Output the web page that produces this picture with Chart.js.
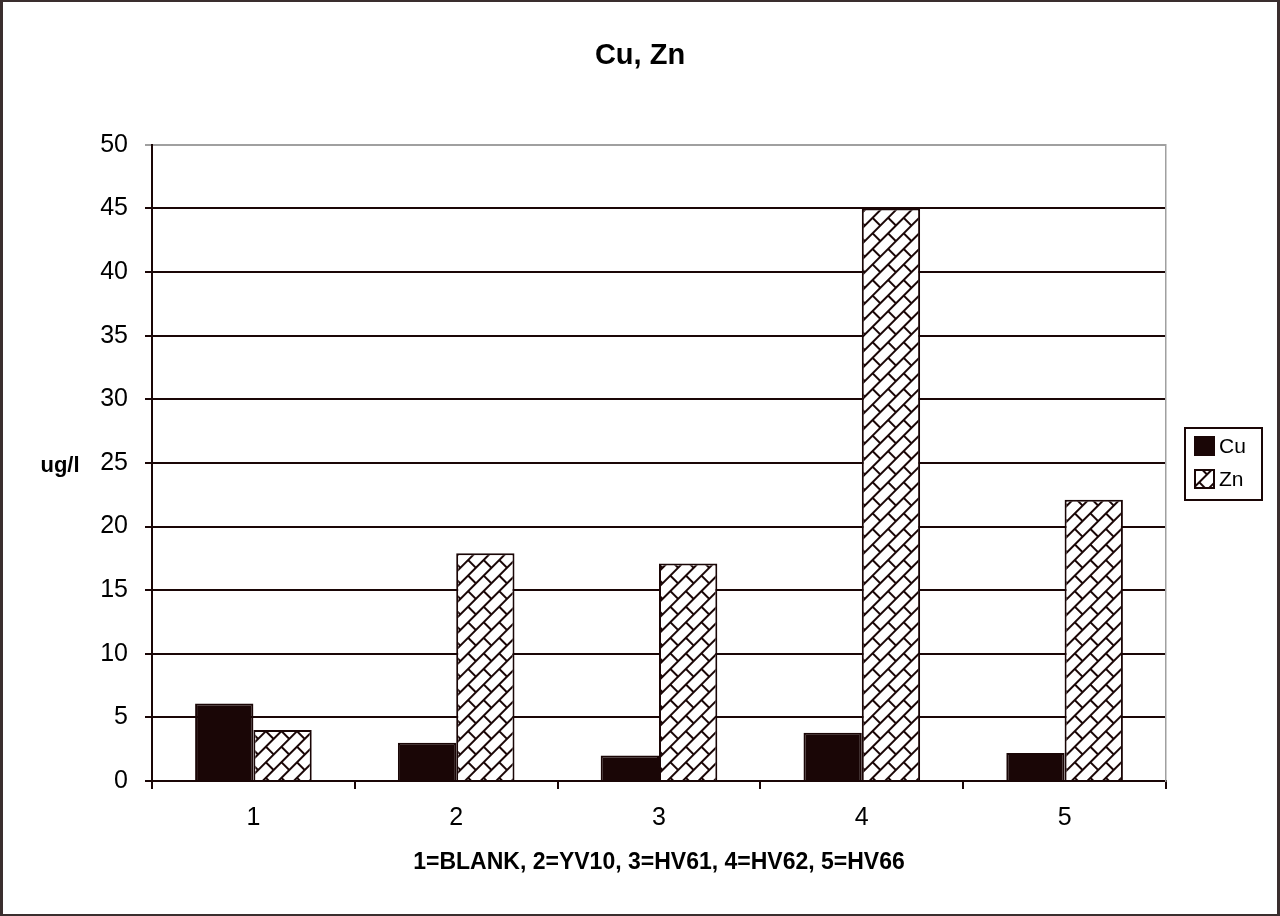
<!DOCTYPE html>
<html>
<head>
<meta charset="utf-8">
<script src="https://cdn.jsdelivr.net/npm/chart.js@4/dist/chart.umd.min.js"></script>
<style>
html,body{margin:0;padding:0;background:#fff;}
#wrap{position:relative;width:1280px;height:916px;}
</style>
</head>
<body>
<div id="wrap"><canvas id="c" width="1280" height="916"></canvas></div>
<script>
const categories = ['1', '2', '3', '4', '5'];
const cuValues = [6.1, 3.0, 2.0, 3.8, 2.2];
const znValues = [4.0, 17.9, 17.1, 45.0, 22.1];
const seriesNames = ['Cu', 'Zn'];
const chartTitle = 'Cu, Zn';
const xTitle = '1=BLANK, 2=YV10, 3=HV61, 4=HV62, 5=HV66';
const yTitle = 'ug/l';
const yMin = 0, yMax = 50, yStep = 5;

const DARK = '#1a0606';
const FONT = "'Liberation Sans', Arial, sans-serif";

function makeBrick() {
  const s = 22, h = 11;
  const t = document.createElement('canvas');
  t.width = s; t.height = s;
  const g = t.getContext('2d');
  g.fillStyle = '#fff';
  g.fillRect(0, 0, s, s);
  g.strokeStyle = DARK;
  g.lineWidth = 2;
  g.beginPath();
  g.moveTo(0, 1); g.lineTo(s, 1);
  g.moveTo(0, h + 1); g.lineTo(s, h + 1);
  g.moveTo(1, 1); g.lineTo(1, h + 1);
  g.moveTo(h + 1, h + 1); g.lineTo(h + 1, s + 1);
  g.stroke();
  const p = document.createElement('canvas').getContext('2d').createPattern(t, 'repeat');
  p.setTransform(new DOMMatrix().rotateSelf(-45));
  return p;
}
const brick = makeBrick();

const decor = {
  id: 'decor',
  afterDraw(chart) {
    const ctx = chart.ctx;
    ctx.save();
    // y-axis title (horizontal)
    ctx.fillStyle = '#000';
    ctx.font = "bold 22px " + FONT;
    ctx.textAlign = 'center';
    ctx.textBaseline = 'middle';
    ctx.fillText(yTitle, 60, 466);
    // legend
    ctx.strokeStyle = DARK;
    ctx.lineWidth = 2;
    ctx.strokeRect(1185, 428, 77, 72);
    const ds = chart.data.datasets;
    const ys = [437, 470];
    ds.forEach((d, i) => {
      ctx.fillStyle = d.backgroundColor;
      ctx.fillRect(1195, ys[i], 19, 18);
      ctx.lineWidth = 2;
      ctx.strokeStyle = DARK;
      ctx.strokeRect(1195, ys[i], 19, 18);
      ctx.fillStyle = '#000';
      ctx.font = "21px " + FONT;
      ctx.textAlign = 'left';
      ctx.textBaseline = 'middle';
      ctx.fillText(d.label, 1219, ys[i] + 10);
    });
    // outer frame
    ctx.fillStyle = '#3a2e2e';
    ctx.fillRect(0, 0, 3, 916);
    ctx.fillRect(0, 0, 1280, 2);
    ctx.fillRect(1277, 0, 3, 916);
    ctx.fillRect(0, 914, 1280, 2);
    ctx.restore();
  }
};

new Chart(document.getElementById('c'), {
  type: 'bar',
  data: {
    labels: categories,
    datasets: [
      { label: seriesNames[0], data: cuValues, backgroundColor: DARK, borderColor: DARK, borderWidth: 2 },
      { label: seriesNames[1], data: znValues, backgroundColor: brick, borderColor: DARK, borderWidth: 2 }
    ]
  },
  options: {
    responsive: false,
    animation: false,
    devicePixelRatio: 1,
    layout: { padding: 0 },
    datasets: { bar: { categoryPercentage: 0.575, barPercentage: 1.0 } },
    plugins: {
      legend: { display: false },
      tooltip: { enabled: false },
      title: {
        display: true,
        text: chartTitle,
        color: '#000',
        font: { family: FONT, size: 29, weight: 'bold', lineHeight: 1.2 },
        padding: { top: 39, bottom: 71 }
      }
    },
    scales: {
      x: {
        afterFit(s) { s.height = 135; },
        grid: { display: true, offset: true, drawOnChartArea: false, drawTicks: true, tickLength: 8, color: DARK, lineWidth: 2 },
        border: { display: true, color: DARK, width: 2 },
        ticks: { color: '#000', font: { family: FONT, size: 25 }, padding: 14 },
        title: { display: true, text: xTitle, color: '#000', font: { family: FONT, size: 23, weight: 'bold', lineHeight: 1.2 }, padding: { top: 4, bottom: 40 } }
      },
      y: {
        min: yMin, max: yMax,
        afterFit(s) { s.width = 152; },
        ticks: { stepSize: yStep, color: '#000', font: { family: FONT, size: 25 }, padding: 17 },
        grid: {
          color: (c) => (c.tick && c.tick.value === yMax) ? '#a0a0a0' : DARK,
          lineWidth: 2, tickLength: 7, drawTicks: true
        },
        border: { display: true, color: DARK, width: 2 }
      },
      yRight: {
        position: 'right',
        min: yMin, max: yMax,
        afterFit(s) { s.width = 114; },
        ticks: { display: false },
        grid: { display: false, drawOnChartArea: false },
        border: { display: true, color: '#a0a0a0', width: 1.5 }
      }
    }
  },
  plugins: [decor]
});
</script>
</body>
</html>
